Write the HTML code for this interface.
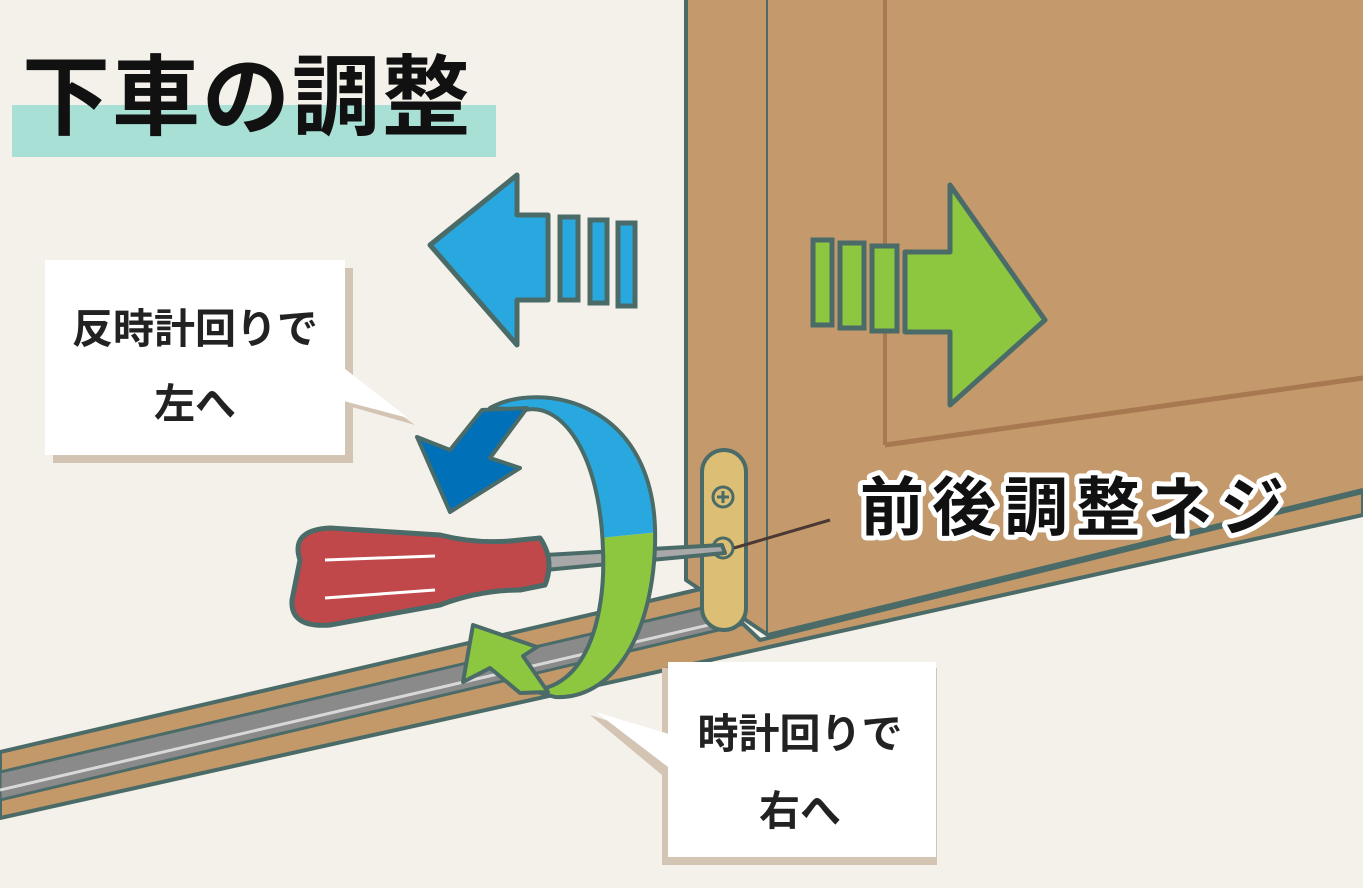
<!DOCTYPE html>
<html><head><meta charset="utf-8"><style>
html,body{margin:0;padding:0;background:#f4f1ea;}
svg{display:block}
text{font-family:"Liberation Sans","Noto Sans CJK JP",sans-serif;}
</style></head><body>
<svg width="1363" height="888" viewBox="0 0 1363 888" xmlns="http://www.w3.org/2000/svg">
<rect width="1363" height="888" fill="#f4f1ea"/>
<polygon points="0,752 705,588 760,640 1363,492 1363,515 0,818" fill="#c4996a" stroke="#4a6b68" stroke-width="4" stroke-linejoin="round"/>
<polygon points="0,772 715,605 740,625 0,800" fill="#8a8a8a" stroke="#4a6b68" stroke-width="3"/>
<line x1="0" y1="790" x2="730" y2="620" stroke="#d8d8d8" stroke-width="3"/>
<polygon points="686,-5 768,-5 768,635 686,580" fill="#c49a6c"/>
<polyline points="686,-5 686,580 768,635 768,-5" fill="none" stroke="#4a6b68" stroke-width="4" stroke-linejoin="round"/>
<polygon points="768,-5 1368,-5 1368,490 768,635" fill="#c49a6c"/>
<line x1="768" y1="635" x2="1363" y2="490" stroke="#4a6b68" stroke-width="4"/>
<line x1="885" y1="0" x2="885" y2="445" stroke="#a87850" stroke-width="4"/>
<line x1="885" y1="445" x2="1363" y2="378" stroke="#a87850" stroke-width="5"/>
<path d="M705,595 Q720,620 745,618 L735,600 Z" fill="#fff" stroke="#4a6b68" stroke-width="3"/>
<rect x="702" y="450" width="44" height="180" rx="22" fill="#dcbf74" stroke="#4a6b68" stroke-width="4"/>
<circle cx="723" cy="497" r="10" fill="none" stroke="#4a6b68" stroke-width="3"/>
<path d="M717,497h12M723,491v12" stroke="#4a6b68" stroke-width="3"/>
<circle cx="723" cy="548" r="10" fill="none" stroke="#4a6b68" stroke-width="3"/>
<line x1="734" y1="548" x2="830" y2="520" stroke="#4a3a33" stroke-width="3"/>
<rect x="12" y="105" width="484" height="52" fill="#a8e0d6"/>
<text x="22" y="128" font-size="88" font-weight="bold" fill="#111" letter-spacing="2">下車の調整</text>
<polygon points="430,245 517,175 517,215 548,215 548,300 517,300 517,345" fill="#29a8e0" stroke="#4a6b68" stroke-width="5" stroke-linejoin="round"/>
<rect x="560" y="217" width="18" height="83" fill="#29a8e0" stroke="#4a6b68" stroke-width="5"/>
<rect x="590" y="220" width="17" height="83" fill="#29a8e0" stroke="#4a6b68" stroke-width="5"/>
<rect x="618" y="223" width="17" height="83" fill="#29a8e0" stroke="#4a6b68" stroke-width="5"/>
<rect x="813" y="240" width="19" height="85" fill="#8dc63f" stroke="#4a6b68" stroke-width="5"/>
<rect x="840" y="243" width="24" height="85" fill="#8dc63f" stroke="#4a6b68" stroke-width="5"/>
<rect x="872" y="246" width="25" height="85" fill="#8dc63f" stroke="#4a6b68" stroke-width="5"/>
<polygon points="905,252 950,252 950,185 1045,320 950,405 950,332 905,332" fill="#8dc63f" stroke="#4a6b68" stroke-width="5" stroke-linejoin="round"/>
<rect x="53" y="268" width="300" height="195" fill="#d4c4b4"/>
<polygon points="345,375 415,425 345,405" fill="#d4c4b4"/>
<rect x="45" y="260" width="300" height="195" fill="#fff"/>
<polygon points="340,365 408,418 340,400" fill="#fff"/>
<text x="195" y="343" font-size="41" font-weight="bold" text-anchor="middle" fill="#222">反時計回りで</text>
<text x="195" y="418" font-size="41" font-weight="bold" text-anchor="middle" fill="#222">左へ</text>
<rect x="662" y="668" width="275" height="197" fill="#d4c4b4"/>
<polygon points="668,740 590,715 668,780" fill="#d4c4b4"/>
<rect x="668" y="662" width="268" height="195" fill="#fff"/>
<polygon points="672,735 596,712 672,770" fill="#fff"/>
<text x="800" y="748" font-size="41" font-weight="bold" text-anchor="middle" fill="#222">時計回りで</text>
<text x="800" y="825" font-size="41" font-weight="bold" text-anchor="middle" fill="#222">右へ</text>
<path d="M545,555 L722,545 L725,553 L545,570 Z" fill="#a8a8a8" stroke="#4a6b68" stroke-width="4" stroke-linejoin="round"/>
<path d="M300,560 Q290,530 330,528 L440,535 Q480,545 520,540 L540,538 Q555,560 545,585 L520,590 Q480,590 440,605 L330,625 Q290,628 292,600 Z" fill="#c0474a" stroke="#4a6b68" stroke-width="5" stroke-linejoin="round"/>
<line x1="325" y1="560" x2="435" y2="556" stroke="#fff" stroke-width="3"/>
<line x1="325" y1="598" x2="435" y2="590" stroke="#fff" stroke-width="3"/>
<defs>
<clipPath id="top"><polygon points="400,380 700,380 700,528 400,558"/></clipPath>
<clipPath id="bot"><polygon points="400,558 700,528 700,720 400,720"/></clipPath>
</defs>
<path d="M490,408 C540,380 660,400 655,545 C652,640 610,700 555,697 L530,690 C585,690 606,620 603,550 C600,450 560,402 525,410 Z" fill="#29a8e0" clip-path="url(#top)"/>
<path d="M490,408 C540,380 660,400 655,545 C652,640 610,700 555,697 L530,690 C585,690 606,620 603,550 C600,450 560,402 525,410 Z" fill="#8dc63f" clip-path="url(#bot)"/>
<path d="M490,408 C540,380 660,400 655,545 C652,640 610,700 555,697 L530,690 C585,690 606,620 603,550 C600,450 560,402 525,410 Z" fill="none" stroke="#4a6b68" stroke-width="4" stroke-linejoin="round"/>
<polygon points="417,437 450,450 482,410 527,408 490,458 520,468 450,512" fill="#0070b8" stroke="#4a6b68" stroke-width="4" stroke-linejoin="round"/>
<polygon points="473,625 537,647 523,656 548,692 520,693 490,668 463,682" fill="#8dc63f" stroke="#4a6b68" stroke-width="4" stroke-linejoin="round"/>
<text x="860" y="530" font-size="64" font-weight="bold" fill="#111" stroke="#fff" stroke-width="10" paint-order="stroke" stroke-linejoin="round" letter-spacing="8">前後調整ネジ</text>
</svg>
</body></html>
